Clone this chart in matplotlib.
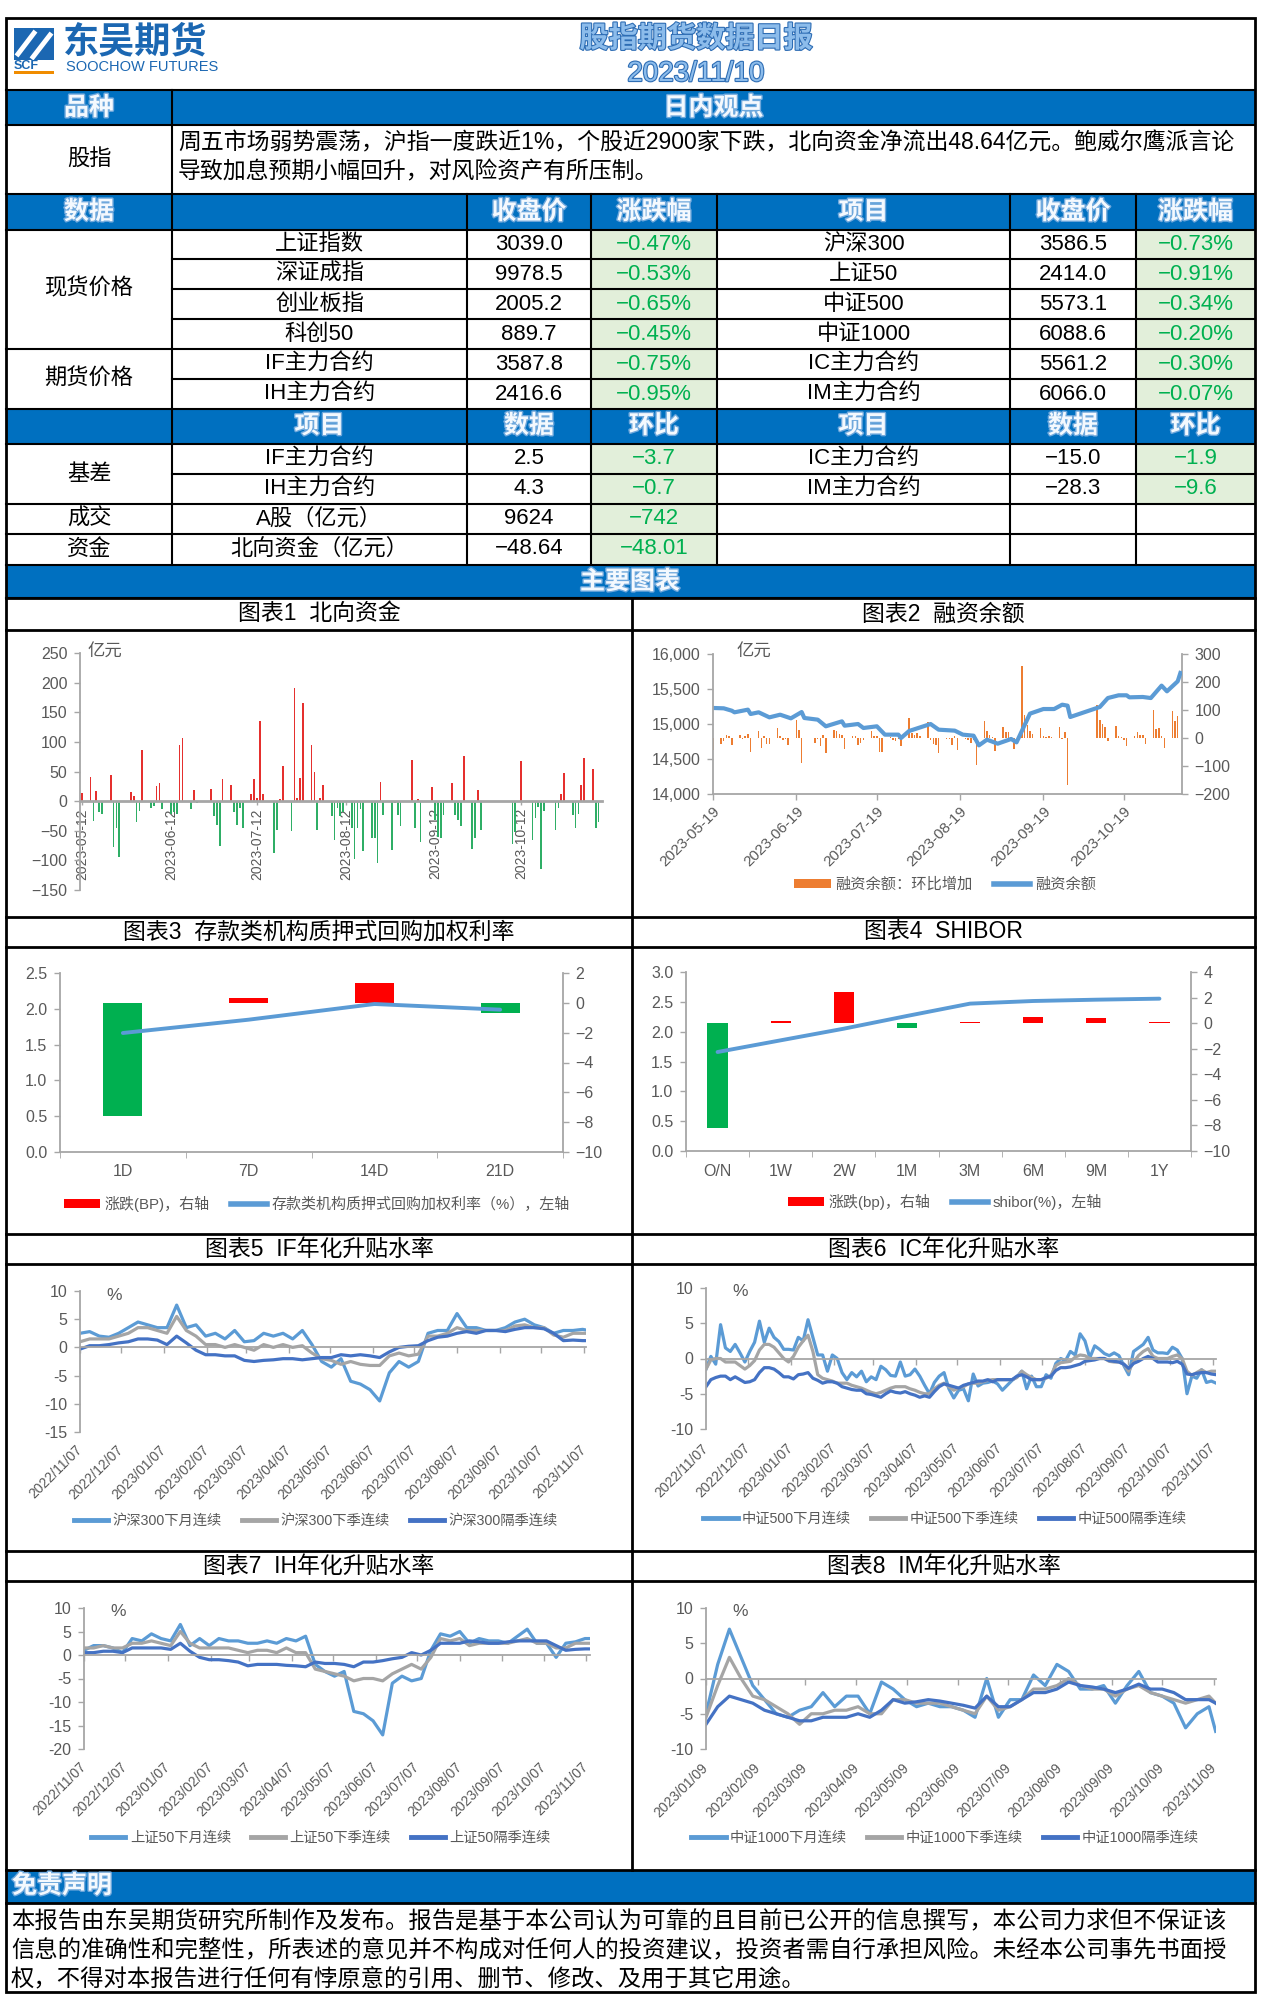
#!/usr/bin/env python3
"""
Daily stock-index futures report (东吴期货 股指期货数据日报 2023/11/10)
rebuilt as one matplotlib figure: header, quote table, eight charts and
the disclaimer.  Output: out.png (1262 x 2011 px).
"""

import matplotlib
matplotlib.use("Agg")
import matplotlib.pyplot as plt
import matplotlib.dates as mdates
import matplotlib.patheffects as pe
from matplotlib.lines import Line2D
from matplotlib.patches import Patch, Rectangle
from matplotlib.ticker import FuncFormatter
import numpy as np
import pandas as pd

plt.rcParams["font.family"] = ["Liberation Sans", "Noto Sans CJK SC", "DejaVu Sans"]
plt.rcParams["axes.unicode_minus"] = True

# ── Text blocks ────────────────────────────────────────────────────────────────
REPORT_TITLE = "股指期货数据日报"
REPORT_DATE = "2023/11/10"
COMMENT_LINES = [
    "周五市场弱势震荡，沪指一度跌近1%，个股近2900家下跌，北向资金净流出48.64亿元。鲍威尔鹰派言论",
    "导致加息预期小幅回升，对风险资产有所压制。",
]
DISCLAIMER_LINES = [
    "本报告由东吴期货研究所制作及发布。报告是基于本公司认为可靠的且目前已公开的信息撰写，本公司力求但不保证该",
    "信息的准确性和完整性，所表述的意见并不构成对任何人的投资建议，投资者需自行承担风险。未经本公司事先书面授",
    "权，不得对本报告进行任何有悖原意的引用、删节、修改、及用于其它用途。",
]

# ── Quote table ────────────────────────────────────────────────────────────────
QUOTE_NAMES_L = ["上证指数", "深证成指", "创业板指", "科创50", "IF主力合约", "IH主力合约"]
QUOTE_CLOSE_L = [3039.0, 9978.5, 2005.2, 889.7, 3587.8, 2416.6]
QUOTE_CHG_L = [-0.47, -0.53, -0.65, -0.45, -0.75, -0.95]
QUOTE_NAMES_R = ["沪深300", "上证50", "中证500", "中证1000", "IC主力合约", "IM主力合约"]
QUOTE_CLOSE_R = [3586.5, 2414.0, 5573.1, 6088.6, 5561.2, 6066.0]
QUOTE_CHG_R = [-0.73, -0.91, -0.34, -0.20, -0.30, -0.07]

BASIS_NAMES_L = ["IF主力合约", "IH主力合约"]
BASIS_L = [2.5, 4.3]
BASIS_CHG_L = [-3.7, -0.7]
BASIS_NAMES_R = ["IC主力合约", "IM主力合约"]
BASIS_R = [-15.0, -28.3]
BASIS_CHG_R = [-1.9, -9.6]

TURNOVER = ("A股（亿元）", 9624, -742)
NORTH_FLOW = ("北向资金（亿元）", -48.64, -48.01)

# ── Chart 1: northbound flow, 亿元 (2023) ─────────────────────────────────────
FLOW_DAYS = [
    "05-12",
    "05-15", "05-16", "05-17", "05-18", "05-19",
    "05-22", "05-23", "05-24", "05-25",
    "05-29", "05-30", "05-31", "06-01", "06-02",
    "06-05", "06-06", "06-07", "06-08", "06-09",
    "06-12", "06-13", "06-14", "06-15", "06-16",
    "06-19", "06-20", "06-21",
    "06-26", "06-27", "06-28", "06-29", "06-30",
    "07-03", "07-04", "07-05", "07-06", "07-07",
    "07-10", "07-11", "07-12", "07-13", "07-14",
    "07-18", "07-19", "07-20", "07-21",
    "07-24", "07-25", "07-26", "07-27", "07-28",
    "07-31", "08-01", "08-02", "08-03", "08-04",
    "08-07", "08-08", "08-09", "08-10", "08-11",
    "08-14", "08-15", "08-16", "08-17", "08-18",
    "08-21", "08-22", "08-23", "08-24", "08-25",
    "08-28", "08-29", "08-30", "08-31",
    "09-04", "09-05", "09-06", "09-07",
    "09-11", "09-12", "09-13", "09-14", "09-15",
    "09-18", "09-19", "09-20", "09-21", "09-22",
    "09-25", "09-26", "09-27", "09-28",
    "10-09", "10-10", "10-12",
    "10-16", "10-17", "10-18", "10-19", "10-20",
    "10-24", "10-25", "10-26", "10-27",
    "10-30", "10-31", "11-01", "11-02", "11-03",
    "11-06", "11-07", "11-08",
]
FLOW_VALUES = [
    14,
    41, -33, 17, -19, -21,
    44, -78, -45, -95,
    15, 8, -36, -16, 87,
    -11, -8, 25, 30, -14,
    -21, -19, -22, 94, 107,
    -14, 19, -4,
    21, -25, -41, -76, 37,
    28, -19, -41, -11, -45,
    12, 37, 6, 136, 12,
    -87, -49, 3, 59,
    -51, 191, 5, 39, 165,
    94, 50, -49, 6, 28,
    -25, -66, -11, -25, -19,
    -45, -97, -45, -14, -84,
    -63, -63, -104, 33, -23,
    -82, -4, -23, -42,
    69, -45, 3, -69,
    24, -32, -60, -63, -23,
    30, -23, -32, -42, 77,
    -80, -62, 19, -49,
    -73, -52, 68,
    -65, -29, -10, -114, -16,
    -49, -11, 12, 48,
    -23, -46, -21, 28, 72,
    55, -45, -36,
]
FLOW_TICKS = ["2023-05-12", "2023-06-12", "2023-07-12", "2023-08-12", "2023-09-12", "2023-10-12"]

# ── Chart 2: margin financing (2023) ──────────────────────────────────────────
MARGIN_BAR_DAYS = [
    "05-19",
    "05-22", "05-23", "05-24", "05-25", "05-26",
    "05-29", "05-30", "05-31", "06-01", "06-02",
    "06-05", "06-06", "06-07", "06-08", "06-09",
    "06-12", "06-13", "06-14", "06-15", "06-16",
    "06-19", "06-20", "06-21",
    "06-26", "06-27", "06-28", "06-29", "06-30",
    "07-03", "07-04", "07-05", "07-06", "07-07",
    "07-10", "07-11", "07-12", "07-13", "07-14",
    "07-17", "07-18", "07-19", "07-20", "07-21",
    "07-24", "07-25", "07-26", "07-27", "07-28",
    "07-31", "08-01", "08-02", "08-03", "08-04",
    "08-07", "08-08", "08-09", "08-10", "08-11",
    "08-14", "08-15", "08-16", "08-17", "08-18",
    "08-21", "08-22", "08-23", "08-24", "08-25",
    "08-28", "08-29", "08-30", "08-31", "09-01",
    "09-04", "09-05", "09-06", "09-07", "09-08",
    "09-11", "09-12", "09-13", "09-14", "09-15",
    "09-18", "09-19", "09-20", "09-21", "09-22",
    "09-25", "09-26", "09-27", "09-28",
    "10-09", "10-10", "10-11", "10-12", "10-13",
    "10-16", "10-17", "10-18", "10-19", "10-20",
    "10-23", "10-24", "10-25", "10-26", "10-27",
    "10-30", "10-31", "11-01", "11-02", "11-03",
    "11-06", "11-07", "11-08",
]
MARGIN_CHANGE = [
    -44,
    -20, -12, 12, 8, -26,
    12, -4, 6, 14, -50,
    26, -36, 6, -20, -20,
    36, 6, -6, -4, -26,
    65, 30, -89,
    -18, -4, -30, 12, -54,
    30, 24, 14, 12, -39,
    8, 6, -26, -18, -6,
    24, 6, 6, -50, -50,
    2, -6, -12, -4, -30,
    71, 18, 12, 18, 6,
    56, -6, -20, -26, -54,
    -4, -4, -26, 8, -44,
    -4, -8, -18, -6, -98,
    62, 26, 12, 4, -48,
    38, 21, 21, 5, -39,
    256, 83, 48, 24, 14,
    36, 6, 4, 8, 4,
    39, -4, 20, -169,
    119, 65, 50, 38, -12,
    44, 6, 4, -6, -30,
    6, 20, 12, 12, -20,
    101, 32, 36, 6, -36,
    95, 60, 77,
]
MARGIN_LINE_DAYS = [
    "05-19", "05-23", "05-26", "05-27", "06-01", "06-02", "06-05", "06-09",
    "06-13", "06-17", "06-21", "06-22", "06-27", "06-30", "07-06", "07-07",
    "07-12", "07-14", "07-19", "07-22", "07-27", "07-28", "07-31", "08-08",
    "08-11", "08-17", "08-20", "08-24", "08-26", "08-29", "09-02", "09-07",
    "09-09", "09-14", "09-19", "09-23", "09-26", "09-28", "09-29", "10-10",
    "10-13", "10-17", "10-20", "10-21", "10-26", "10-29", "11-02", "11-04",
    "11-08", "11-09",
]
MARGIN_BALANCE = [
    15229, 15224, 15190, 15167, 15205, 15143, 15167, 15095,
    15133, 15081, 15171, 15086, 15062, 14967, 15038, 14976,
    15000, 14943, 14967, 14848, 14848, 14800, 14900, 15000,
    14919, 14905, 14848, 14833, 14695, 14776, 14719, 14786,
    14738, 15148, 15214, 15214, 15276, 15262, 15100, 15243,
    15371, 15410, 15410, 15381, 15386, 15371, 15548, 15467,
    15610, 15729,
]
MARGIN_TICKS = ["2023-05-19", "2023-06-19", "2023-07-19", "2023-08-19", "2023-09-19", "2023-10-19"]

# ── Chart 3: pledged repo rates of deposit institutions ──────────────────────
REPO_TERMS = ["1D", "7D", "14D", "21D"]
REPO_RATE = [1.662, 1.848, 2.067, 1.988]
REPO_CHG_BP = [-7.6, 0.3, 1.3, -0.7]

# ── Chart 4: SHIBOR ───────────────────────────────────────────────────────────
SHIBOR_TERMS = ["O/N", "1W", "2W", "1M", "3M", "6M", "9M", "1Y"]
SHIBOR_RATE = [1.659, 1.855, 2.050, 2.263, 2.470, 2.514, 2.536, 2.553]
SHIBOR_CHG_BP = [-8.2, 0.2, 2.4, -0.4, 0.1, 0.5, 0.4, 0.1]

# ── Charts 5-8: annualised basis, % ───────────────────────────────────────────
# weekly readings (plus the last day) for IF / IH / IM, half-weekly for IC
BASIS_WEEKS = list(pd.date_range("2022-11-07", periods=53, freq="7D")) + [pd.Timestamp("2023-11-10")]
IC_HALF_WEEKS = pd.date_range("2022-11-07", periods=106, freq="84h")
IM_WEEKS = list(pd.date_range("2023-01-09", periods=44, freq="7D")) + [pd.Timestamp("2023-11-10")]

IF_NEXT_MONTH = [2.5, 2.8, 2.0, 1.8, 2.5, 3.5, 4.5, 4.0, 3.5, 3.5,
                 7.5, 3.5, 4.0, 2.0, 2.5, 1.5, 3.0, 1.0, 1.2, 2.5,
                 2.0, 2.5, 1.5, 3.0, 0.5, -2.5, -3.5, -2.0, -6.0, -6.5,
                 -7.5, -9.5, -4.5, -2.5, -3.5, -2.5, 2.5, 3.0, 3.0, 6.0,
                 3.5, 3.5, 3.0, 3.0, 3.5, 4.5, 5.0, 4.0, 3.5, 2.5,
                 3.0, 3.0, 3.2, 3.0]
IF_NEXT_QTR = [1.0, 1.5, 1.5, 1.5, 2.0, 2.5, 3.5, 3.5, 3.0, 2.5,
               5.5, 3.0, 2.0, 0.5, 0.5, 0.0, 0.5, 0.0, -0.5, 0.5,
               0.0, 0.5, 0.0, 0.3, -1.0, -2.0, -2.3, -3.0, -2.5, -3.0,
               -3.2, -3.2, -1.5, -1.0, -1.5, -1.2, 2.0, 2.0, 2.5, 3.5,
               3.0, 3.0, 3.0, 3.0, 3.0, 3.8, 4.0, 3.5, 3.5, 2.2,
               1.8, 2.5, 2.5, 2.5]
IF_FAR_QTR = [-0.3, 0.3, 0.3, 0.5, 0.8, 1.0, 1.5, 1.5, 1.3, 0.5,
              2.0, 0.8, -0.5, -1.3, -1.3, -1.5, -1.5, -2.3, -2.5, -2.3,
              -2.2, -2.0, -2.0, -2.2, -2.0, -1.8, -1.8, -1.3, -1.5, -1.3,
              -1.5, -1.8, -0.8, 0.0, 0.2, 0.3, 1.2, 1.8, 2.0, 2.5,
              2.8, 2.5, 3.0, 3.0, 2.8, 3.2, 3.5, 3.5, 3.3, 2.5,
              1.2, 1.3, 1.2, 1.2]

IC_NEXT_MONTH = [-1.5, 0.3, -0.8, 4.8, 1.5, 1.0, 2.0, 0.8, -0.5, 1.0,
                 2.3, 5.3, 2.3, 4.3, 3.0, 2.4, 1.3, 1.3, 1.2, 3.0,
                 2.5, 5.5, 3.0, 0.5, 0.5, -1.8, 0.5, 0.0, -2.0, -3.0,
                 -2.0, -2.6, -1.8, -3.3, -2.6, -3.0, -1.1, -1.6, -2.4, -2.5,
                 -0.5, -2.5, -2.3, -1.5, -2.5, -3.8, -5.0, -3.4, -2.5, -2.0,
                 -4.3, -5.6, -4.5, -4.3, -6.0, -2.2, -3.9, -3.5, -3.4, -3.2,
                 -3.6, -4.5, -3.8, -3.1, -2.6, -1.8, -4.3, -2.5, -4.0, -4.0,
                 -2.3, -2.8, -0.7, 0.0, -0.3, 1.0, 0.5, 3.5, 2.5, 0.1,
                 1.8, 1.3, 0.7, 0.4, 0.8, 0.4, -1.0, -2.3, 1.0, 1.5,
                 2.0, 3.0, 1.2, 0.8, 0.8, 0.7, 1.6, 1.2, 0.0, -5.0,
                 -2.5, -2.8, -1.6, -3.4, -3.2, -3.5]
IC_NEXT_QTR = [-1.5, -0.2, 0.0, 0.0, -0.5, -0.5, -0.5, -1.0, -1.5, -1.0,
               -0.3, 1.2, 2.0, 2.0, 1.6, 0.8, 0.0, -0.5, 0.3, 1.6,
               2.5, 3.3, 1.0, -2.3, -2.8, -3.0, -3.2, -3.5, -3.5, -3.5,
               -3.8, -4.0, -4.2, -4.5, -4.8, -5.0, -4.8, -4.5, -4.2, -4.0,
               -4.0, -4.0, -4.3, -4.5, -4.8, -5.0, -5.0, -4.3, -3.8, -3.5,
               -4.0, -4.5, -4.2, -4.0, -3.6, -3.5, -3.5, -3.3, -3.1, -3.0,
               -3.0, -3.0, -3.0, -3.0, -2.7, -1.8, -2.3, -2.7, -3.0, -3.0,
               -2.8, -2.4, -1.0, -0.6, -0.5, -0.4, 0.2, 0.5, 0.4, 0.0,
               0.0, 0.0, 0.0, -0.4, -0.5, -0.5, -0.8, -1.8, -0.5, 0.4,
               1.0, 1.4, 0.3, 0.0, 0.0, 0.0, 0.3, 0.5, 0.0, -1.8,
               -2.4, -2.0, -1.6, -2.0, -1.8, -1.8]
IC_FAR_QTR = [-4.0, -3.0, -2.7, -2.5, -2.5, -3.0, -2.6, -3.0, -3.4, -3.3,
              -3.0, -2.0, -1.3, -1.3, -1.5, -2.0, -2.6, -2.6, -2.9, -2.3,
              -2.2, -2.0, -2.8, -3.1, -3.5, -3.3, -3.3, -3.5, -4.0, -4.2,
              -4.4, -4.5, -4.5, -5.0, -5.1, -5.3, -5.5, -5.0, -4.6, -4.8,
              -4.9, -4.7, -5.0, -5.2, -5.5, -5.3, -5.5, -4.7, -4.0, -3.6,
              -3.8, -4.0, -4.2, -3.8, -3.6, -3.4, -3.2, -3.2, -3.0, -3.3,
              -3.0, -3.0, -3.0, -3.0, -2.5, -2.3, -2.6, -3.0, -3.0, -3.0,
              -2.7, -2.5, -1.7, -1.3, -1.3, -1.2, -1.0, -0.8, -0.4, -0.3,
              -0.2, 0.0, 0.0, -0.3, -0.4, -0.5, -0.8, -1.4, -0.7, -0.4,
              0.0, 0.3, 0.0, -0.5, -0.5, -0.5, -0.6, -0.4, -0.8, -2.2,
              -2.3, -2.1, -2.0, -2.0, -2.2, -2.3]

IH_NEXT_MONTH = [1.0, 2.0, 2.0, 1.5, 0.5, 3.5, 3.0, 4.5, 3.5, 3.0,
                 6.5, 2.0, 3.5, 2.0, 3.5, 3.0, 3.0, 2.5, 2.5, 3.0,
                 2.5, 3.5, 3.0, 4.0, -2.0, -3.5, -4.5, -3.5, -12.0, -12.5,
                 -14.0, -17.0, -6.0, -4.5, -5.5, -5.0, 1.0, 4.5, 4.0, 5.0,
                 2.5, 3.5, 3.0, 3.0, 2.5, 4.0, 5.5, 2.5, 2.5, -0.5,
                 2.5, 2.8, 3.5, 3.5]
IH_NEXT_QTR = [1.5, 1.5, 2.0, 1.5, 1.5, 2.5, 2.5, 3.0, 2.5, 2.0,
               5.0, 2.5, 1.5, 1.5, 1.5, 1.5, 1.0, 0.5, 1.0, 1.0,
               0.5, 1.5, 0.5, 0.5, -3.0, -3.5, -4.0, -4.5, -5.5, -5.0,
               -5.0, -5.5, -4.0, -3.0, -2.0, -3.0, -0.5, 3.5, 3.0, 3.5,
               2.0, 2.5, 2.5, 2.5, 2.5, 3.0, 3.5, 2.5, 2.5, 1.5,
               1.5, 2.5, 2.5, 2.5]
IH_FAR_QTR = [0.5, 0.5, 0.8, 0.8, 0.5, 1.5, 1.5, 1.5, 1.5, 1.2,
              2.5, 0.8, -0.5, -1.0, -1.0, -1.2, -1.5, -2.3, -2.0, -2.0,
              -2.0, -2.2, -2.3, -2.5, -1.5, -1.8, -1.8, -2.0, -2.5, -1.5,
              -1.5, -1.2, -0.8, -0.5, 0.5, 0.0, 1.0, 2.5, 2.5, 2.5,
              3.0, 2.8, 2.5, 2.5, 2.8, 3.0, 3.0, 3.0, 3.0, 2.0,
              1.0, 1.2, 1.3, 1.3]

IM_NEXT_MONTH = [-5.0, 2.0, 7.0, 3.0, -1.0, -3.0, -5.0, -5.5, -4.5, -4.0,
                 -2.0, -4.0, -2.5, -2.5, -5.0, -0.5, -1.5, -3.0, -4.0, -3.5,
                 -4.0, -4.0, -4.5, -5.5, 0.0, -5.5, -3.0, -3.0, 0.5, -1.0,
                 2.0, 1.0, -1.5, -1.5, -1.0, -3.5, -1.0, 1.0, -2.0, -2.5,
                 -3.5, -7.0, -5.0, -4.0, -7.5]
IM_NEXT_QTR = [-5.5, -1.0, 3.0, 0.0, -2.5, -3.0, -4.0, -5.0, -6.5, -5.0,
               -5.0, -4.5, -4.5, -4.0, -5.0, -5.0, -3.0, -3.0, -3.5, -3.5,
               -3.5, -4.0, -4.5, -5.0, -2.5, -4.5, -4.0, -3.0, -1.5, -1.5,
               -1.0, 0.0, -1.0, -1.5, -1.5, -2.5, -1.5, -1.0, -2.0, -2.5,
               -3.0, -3.5, -3.0, -2.5, -3.5]
IM_FAR_QTR = [-6.5, -4.0, -2.5, -3.0, -3.5, -4.5, -5.0, -5.5, -6.0, -6.0,
              -5.5, -5.5, -5.5, -5.0, -5.5, -4.5, -3.0, -3.5, -3.3, -3.0,
              -3.2, -3.5, -3.8, -4.2, -2.5, -4.0, -4.0, -3.0, -2.0, -2.0,
              -1.5, -0.5, -1.0, -1.2, -1.5, -2.0, -1.5, -0.8, -1.5, -1.5,
              -2.0, -3.0, -3.0, -3.0, -3.5]

YEAR_TICKS = ["2022/11/07", "2022/12/07", "2023/01/07", "2023/02/07", "2023/03/07",
              "2023/04/07", "2023/05/07", "2023/06/07", "2023/07/07", "2023/08/07",
              "2023/09/07", "2023/10/07", "2023/11/07"]
IM_TICKS = ["2023/01/09", "2023/02/09", "2023/03/09", "2023/04/09", "2023/05/09",
            "2023/06/09", "2023/07/09", "2023/08/09", "2023/09/09", "2023/10/09",
            "2023/11/09"]

# ── Colours ───────────────────────────────────────────────────────────────────
BAND = "#0070C0"
LOGO = "#1B67B2"
GREEN_BG = "#E2EFDA"
GREEN_TX = "#00B050"
AXC = "#A6A6A6"
TKC = "#595959"
RED = "#E5302E"
GREEN = "#2FAE66"
RED2 = "#FF0000"
GREEN2 = "#00B050"
ORANGE = "#ED7D31"
LBLUE = "#5B9BD5"
GREY = "#A5A5A5"
DBLUE = "#4472C4"

# ── Canvas helpers (pixel coordinates, origin top-left) ──────────────────────
W, H = 1262, 2011
fig = plt.figure(figsize=(W / 100, H / 100), dpi=100)
fig.patch.set_facecolor("white")


def fx(x):
    return x / W


def fy(y):
    return 1 - y / H


def box(x0, y0, x1, y1, color, z=1):
    fig.add_artist(Rectangle((fx(x0), fy(y1)), (x1 - x0) / W, (y1 - y0) / H,
                             transform=fig.transFigure, facecolor=color,
                             edgecolor="none", zorder=z))


def rule(x0, y0, x1, y1, lw=1.5, color="black"):
    fig.add_artist(Line2D([fx(x0), fx(x1)], [fy(y0), fy(y1)],
                          transform=fig.transFigure, color=color, lw=lw,
                          solid_capstyle="projecting", zorder=6))


def say(x, y, s, size, ha="center", color="black", weight="normal", effects=None):
    fig.text(fx(x), fy(y), s, ha=ha, va="center", fontsize=size, color=color,
             fontweight=weight, path_effects=effects, zorder=7)


HEAD_FX = [pe.withStroke(linewidth=2.0, foreground="#6FA8DC")]


def head(x, y, s, ha="center"):
    say(x, y, s, 18, ha=ha, color="#F4F9FE", weight="bold", effects=HEAD_FX)


def fmt(v, nd, pct=False):
    return (f"{v:.{nd}f}" + ("%" if pct else "")).replace("-", "−")


# ── Header ────────────────────────────────────────────────────────────────────
box(14, 28, 54, 60, LOGO, z=2)
rule(18, 54, 34, 33, lw=3.5, color="white")
rule(33, 57, 50, 35, lw=3.5, color="white")
say(63, 43, "东吴期货", 26, ha="left", color=LOGO, weight="bold")
say(14, 66, "SCF", 9, ha="left", color=LOGO, weight="bold")
box(14, 71, 54, 74, "#F08C00", z=2)
say(66, 67, "SOOCHOW FUTURES", 10.5, ha="left", color=LOGO)
TITLE_FX = [pe.withStroke(linewidth=1.6, foreground="#2E6DB4")]
say(696, 39, REPORT_TITLE, 21, color="#8CBCEB", weight="bold", effects=TITLE_FX)
say(696, 74, REPORT_DATE, 20, color="#8CBCEB", effects=TITLE_FX)

# ── Table geometry ────────────────────────────────────────────────────────────
X = [6, 172, 467, 591, 717, 1010, 1136, 1255]
CX = [(a + b) / 2 for a, b in zip(X[:-1], X[1:])]
QROWS = [230, 259, 289, 319, 349, 379, 409]
BROWS = [444, 474, 504, 534, 564]

for y0, y1 in [(91, 125), (194, 230), (409, 444), (566, 598), (1870, 1903)]:
    box(X[0], y0, X[7], y1, BAND)
for y0, y1 in zip(QROWS[:-1], QROWS[1:]):
    box(X[3], y0, X[4], y1, GREEN_BG)
    box(X[6], y0, X[7], y1, GREEN_BG)
for i, (y0, y1) in enumerate(zip(BROWS[:-1], BROWS[1:])):
    box(X[3], y0, X[4], y1, GREEN_BG)
    if i < 2:
        box(X[6], y0, X[7], y1, GREEN_BG)

# header bands text
head(CX[0], 108, "品种")
head((X[1] + X[7]) / 2, 108, "日内观点")
for x, s in zip(CX, ["数据", "", "收盘价", "涨跌幅", "项目", "收盘价", "涨跌幅"]):
    head(x, 212, s)
for x, s in zip(CX[1:], ["项目", "数据", "环比", "项目", "数据", "环比"]):
    head(x, 426, s)
head(630, 582, "主要图表")
head(12, 1886, "免责声明", ha="left")

# commentary
say(CX[0], 160, "股指", 16)
for i, line in enumerate(COMMENT_LINES):
    say(178, 143 + i * 29, line, 16.5, ha="left")

# quotes
say(CX[0], 289, "现货价格", 16)
say(CX[0], 379, "期货价格", 16)
for i in range(6):
    yc = (QROWS[i] + QROWS[i + 1]) / 2
    say(CX[1], yc, QUOTE_NAMES_L[i], 16)
    say(CX[2], yc, fmt(QUOTE_CLOSE_L[i], 1), 16)
    say(CX[3], yc, fmt(QUOTE_CHG_L[i], 2, True), 16, color=GREEN_TX)
    say(CX[4], yc, QUOTE_NAMES_R[i], 16)
    say(CX[5], yc, fmt(QUOTE_CLOSE_R[i], 1), 16)
    say(CX[6], yc, fmt(QUOTE_CHG_R[i], 2, True), 16, color=GREEN_TX)

say(CX[0], 474, "基差", 16)
for i in range(2):
    yc = (BROWS[i] + BROWS[i + 1]) / 2
    say(CX[1], yc, BASIS_NAMES_L[i], 16)
    say(CX[2], yc, fmt(BASIS_L[i], 1), 16)
    say(CX[3], yc, fmt(BASIS_CHG_L[i], 1), 16, color=GREEN_TX)
    say(CX[4], yc, BASIS_NAMES_R[i], 16)
    say(CX[5], yc, fmt(BASIS_R[i], 1), 16)
    say(CX[6], yc, fmt(BASIS_CHG_R[i], 1), 16, color=GREEN_TX)

say(CX[0], 519, "成交", 16)
say(CX[1], 519, TURNOVER[0], 16)
say(CX[2], 519, fmt(TURNOVER[1], 0), 16)
say(CX[3], 519, fmt(TURNOVER[2], 0), 16, color=GREEN_TX)
say(CX[0], 549, "资金", 16)
say(CX[1], 549, NORTH_FLOW[0], 16)
say(CX[2], 549, fmt(NORTH_FLOW[1], 2), 16)
say(CX[3], 549, fmt(NORTH_FLOW[2], 2), 16, color=GREEN_TX)

# disclaimer
for i, line in enumerate(DISCLAIMER_LINES):
    say(11, 1921 + i * 29, line, 16.8, ha="left")

# table rules
for y in [90, 125, 193.5, 230, 349, 409, 444, 504, 534, 565, 598]:
    rule(X[0], y, X[7], y)
for y in [259, 289, 319, 379, 474]:
    rule(X[1], y, X[7], y)
rule(X[1], 90, X[1], 565)
for x in X[2:7]:
    rule(x, 193.5, x, 565)

# chart grid rules
XM = 632
CHART_ROWS = [598, 917, 1234, 1551, 1870]
TITLE_BOTTOM = [630, 947, 1264, 1581]
for y in CHART_ROWS + TITLE_BOTTOM:
    rule(X[0], y, X[7], y, lw=2.0)
rule(XM, 598, XM, 1870, lw=2.0)
rule(X[0], 1903, X[7], 1903, lw=2.0)
fig.add_artist(Rectangle((fx(X[0]), fy(1992)), (X[7] - X[0]) / W, (1992 - 18) / H,
                         transform=fig.transFigure, facecolor="none",
                         edgecolor="black", lw=2.0, zorder=6))

CHART_TITLES = ["图表1  北向资金", "图表2  融资余额",
                "图表3  存款类机构质押式回购加权利率", "图表4  SHIBOR",
                "图表5  IF年化升贴水率", "图表6  IC年化升贴水率",
                "图表7  IH年化升贴水率", "图表8  IM年化升贴水率"]
for k, title in enumerate(CHART_TITLES):
    row, col = divmod(k, 2)
    xc = (X[0] + XM) / 2 if col == 0 else (XM + X[7]) / 2
    say(xc, (CHART_ROWS[row] + TITLE_BOTTOM[row]) / 2, title, 16.5)


# ── Axes helpers ──────────────────────────────────────────────────────────────
def add_ax(x0, y0, x1, y1):
    ax = fig.add_axes([fx(x0), fy(y1), (x1 - x0) / W, (y1 - y0) / H])
    ax.patch.set_visible(False)
    return ax


def clean(ax, keep, size=11.5):
    for side in ("top", "right", "bottom", "left"):
        sp = ax.spines[side]
        sp.set_visible(side in keep)
        sp.set_color(AXC)
        sp.set_linewidth(1.3)
    ax.tick_params(colors=AXC, labelcolor=TKC, labelsize=size, length=4,
                   width=1, direction="out", pad=5)


def legend(handles, labels, cx, cy, size=11):
    fig.legend(handles, labels, loc="center", bbox_to_anchor=(fx(cx), fy(cy)),
               ncol=len(handles), frameon=False, fontsize=size,
               handlelength=2.4, handleheight=0.5, handletextpad=0.3,
               columnspacing=1.4, labelcolor=TKC, borderpad=0, borderaxespad=0)


def day0(s):
    return mdates.date2num(pd.Timestamp(s))


# ── Chart 1: northbound flow ─────────────────────────────────────────────────
ax1 = add_ax(80, 653, 602, 890)
clean(ax1, ("left", "bottom"))
ax1.spines["bottom"].set_position(("data", 0))
ax1.spines["bottom"].set_linewidth(2.0)
flow_dates = pd.to_datetime(["2023-" + d for d in FLOW_DAYS])
ax1.bar(flow_dates, FLOW_VALUES, width=0.6, linewidth=0,
        color=[RED if v > 0 else GREEN for v in FLOW_VALUES], zorder=2)
ax1.set_ylim(-150, 250)
ax1.set_yticks(range(-150, 251, 50))
ax1.set_xlim(day0("2023-05-12") - 0.7, day0("2023-05-12") + 181.2)
ax1.set_xticks(pd.to_datetime(FLOW_TICKS))
ax1.set_xticklabels(FLOW_TICKS, rotation=90, fontsize=10)
ax1.tick_params(axis="x", length=3, pad=2)
say(88, 652, "亿元", 12.5, ha="left", color=TKC)

# ── Chart 2: margin financing ────────────────────────────────────────────────
ax2 = add_ax(713, 654, 1182, 794)
ax2b = ax2.twinx()
ax2b.patch.set_visible(False)
ax2.set_zorder(ax2b.get_zorder() + 1)
clean(ax2, ("left", "bottom"))
clean(ax2b, ("right",))
ax2b.bar(pd.to_datetime(["2023-" + d for d in MARGIN_BAR_DAYS]), MARGIN_CHANGE,
         width=0.55, linewidth=0, color=ORANGE)
ax2.plot(pd.to_datetime(["2023-" + d for d in MARGIN_LINE_DAYS]), MARGIN_BALANCE,
         color=LBLUE, lw=3.0, solid_joinstyle="round")
ax2.set_ylim(14000, 16000)
ax2.set_yticks(range(14000, 16001, 500))
ax2.yaxis.set_major_formatter(FuncFormatter(lambda v, p: f"{v:,.0f}"))
ax2b.set_ylim(-200, 300)
ax2b.set_yticks(range(-200, 301, 100))
ax2.set_xlim(day0("2023-05-19"), day0("2023-05-19") + 174.6)
ax2.set_xticks(pd.to_datetime(MARGIN_TICKS))
ax2.set_xticklabels(MARGIN_TICKS, rotation=45, ha="right",
                    rotation_mode="anchor", fontsize=11)
ax2.tick_params(axis="x", pad=3)
say(737, 652, "亿元", 12.5, ha="left", color=TKC)
legend([Patch(facecolor=ORANGE), Line2D([], [], color=LBLUE, lw=4)],
       ["融资余额：环比增加", "融资余额"], 945, 885)


# ── Charts 3/4: rate curve (left) + change in bp (right) ─────────────────────
def rate_chart(rect, terms, rate, chg, ylim_l, ylim_r, step_r, width):
    ax = add_ax(*rect)
    axr = ax.twinx()
    axr.patch.set_visible(False)
    ax.set_zorder(axr.get_zorder() + 1)
    clean(ax, ("left", "bottom"))
    clean(axr, ("right",))
    x = np.arange(len(terms))
    axr.bar(x, chg, width=width, linewidth=0,
            color=[RED2 if v > 0 else GREEN2 for v in chg])
    ax.plot(x, rate, color=LBLUE, lw=2.8, solid_capstyle="round")
    ax.set_xlim(-0.5, len(terms) - 0.5)
    ax.set_ylim(*ylim_l)
    ax.set_yticks(np.arange(ylim_l[0], ylim_l[1] + 0.01, 0.5))
    ax.yaxis.set_major_formatter(FuncFormatter(lambda v, p: f"{v:.1f}"))
    axr.set_ylim(*ylim_r)
    axr.set_yticks(range(ylim_r[0], ylim_r[1] + 1, step_r))
    ax.set_xticks(x)
    ax.set_xticklabels(terms)
    ax.set_xticks(np.arange(-0.5, len(terms)), minor=True)
    ax.tick_params(axis="x", which="major", length=0, pad=9)
    ax.tick_params(axis="x", which="minor", length=4, color=AXC)
    return ax


rate_chart((60, 973, 563, 1152), REPO_TERMS, REPO_RATE, REPO_CHG_BP,
           (0, 2.5), (-10, 2), 2, 0.31)
legend([Patch(facecolor=RED2), Line2D([], [], color=LBLUE, lw=4)],
       ["涨跌(BP)，右轴", "存款类机构质押式回购加权利率（%），左轴"], 317, 1204, size=10.8)

rate_chart((686, 972, 1191, 1151), SHIBOR_TERMS, SHIBOR_RATE, SHIBOR_CHG_BP,
           (0, 3.0), (-10, 4), 2, 0.32)
legend([Patch(facecolor=RED2), Line2D([], [], color=LBLUE, lw=4)],
       ["涨跌(bp)，右轴", "shibor(%)，左轴"], 945, 1202, size=10.8)


# ── Charts 5-8: annualised basis ─────────────────────────────────────────────
def basis_chart(rect, dates, series, names, ylim, start, span, ticks, pad,
                pct_xy, legend_xy):
    ax = add_ax(*rect)
    clean(ax, ("left", "bottom"))
    ax.spines["bottom"].set_position(("data", 0))
    for vals, color in zip(series, [LBLUE, GREY, DBLUE]):
        ax.plot(dates, vals, color=color, lw=2.3, solid_joinstyle="round")
    ax.set_ylim(*ylim)
    ax.set_yticks(range(ylim[0], ylim[1] + 1, 5))
    ax.yaxis.set_major_formatter(FuncFormatter(lambda v, p: f"{v:.0f}"))
    ax.set_xlim(day0(start), day0(start) + span)
    ax.set_xticks(pd.to_datetime(ticks))
    ax.set_xticklabels(ticks, rotation=45, ha="right", va="center",
                       rotation_mode="anchor", fontsize=10)
    ax.tick_params(axis="x", pad=pad)
    say(pct_xy[0], pct_xy[1], "%", 12.5, ha="left", color=TKC)
    legend([Line2D([], [], color=c, lw=3.5) for c in (LBLUE, GREY, DBLUE)],
           names, legend_xy[0], legend_xy[1], size=10.3)


basis_chart((80, 1291, 586, 1432), BASIS_WEEKS,
            [IF_NEXT_MONTH, IF_NEXT_QTR, IF_FAR_QTR],
            ["沪深300下月连续", "沪深300下季连续", "沪深300隔季连续"],
            (-15, 10), "2022-11-07", 366.4, YEAR_TICKS, 68, (106, 1295), (316, 1521))
basis_chart((706, 1288, 1216, 1429), IC_HALF_WEEKS,
            [IC_NEXT_MONTH, IC_NEXT_QTR, IC_FAR_QTR],
            ["中证500下月连续", "中证500下季连续", "中证500隔季连续"],
            (-10, 10), "2022-11-07", 367.4, YEAR_TICKS, 59, (732, 1291), (945, 1519))
basis_chart((84, 1608, 590, 1749), BASIS_WEEKS,
            [IH_NEXT_MONTH, IH_NEXT_QTR, IH_FAR_QTR],
            ["上证50下月连续", "上证50下季连续", "上证50隔季连续"],
            (-20, 10), "2022-11-07", 367.6, YEAR_TICKS, 75, (110, 1611), (321, 1838))
basis_chart((706, 1608, 1216, 1749), IM_WEEKS,
            [IM_NEXT_MONTH, IM_NEXT_QTR, IM_FAR_QTR],
            ["中证1000下月连续", "中证1000下季连续", "中证1000隔季连续"],
            (-10, 10), "2023-01-09", 305.2, IM_TICKS, 59, (732, 1611), (945, 1838))

fig.savefig("out.png", dpi=100)
